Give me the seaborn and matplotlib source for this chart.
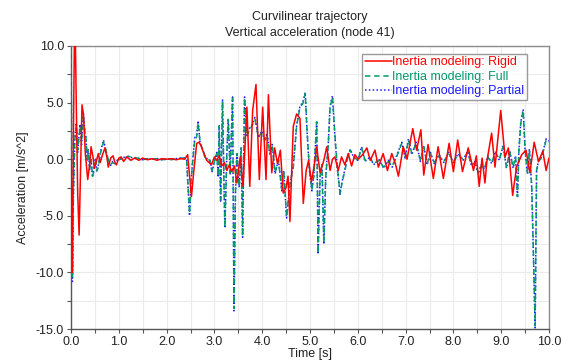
import numpy as np
import pandas as pd
import matplotlib
matplotlib.use("Agg")
import matplotlib.pyplot as plt
import seaborn as sns
from matplotlib.ticker import MultipleLocator, FormatStrFormatter

# ---------------- data ----------------
t_rigid = [0.00, 0.03, 0.05, 0.08, 0.11, 0.14, 0.17, 0.20, 0.23, 0.26, 0.30, 0.35, 0.39, 0.42,
           0.46, 0.49, 0.53, 0.57, 0.61, 0.66, 0.71, 0.75, 0.78, 0.83, 0.88, 0.92, 0.95, 1.00,
           1.05, 1.10, 1.17, 1.25, 1.33, 1.42, 1.50, 1.60, 1.70, 1.80, 1.90, 2.00, 2.10, 2.20,
           2.30, 2.38, 2.44, 2.48, 2.52, 2.57, 2.63, 2.68, 2.73, 2.78, 2.84, 2.89, 2.94, 3.00,
           3.05, 3.10, 3.15, 3.21, 3.26, 3.31, 3.36, 3.42, 3.47, 3.54, 3.60, 3.68, 3.74, 3.80,
           3.87, 3.94, 4.01, 4.08, 4.13, 4.20, 4.26, 4.32, 4.38, 4.44, 4.50, 4.54, 4.58, 4.65,
           4.72, 4.79, 4.86, 4.92, 4.97, 5.03, 5.09, 5.14, 5.21, 5.29, 5.35, 5.42, 5.47, 5.52,
           5.59, 5.66, 5.73, 5.80, 5.87, 5.94, 6.01, 6.10, 6.19, 6.26, 6.36, 6.43, 6.53, 6.62,
           6.71, 6.78, 6.85, 6.95, 7.03, 7.15, 7.23, 7.32, 7.38, 7.47, 7.58, 7.68, 7.79, 7.91,
           8.00, 8.09, 8.19, 8.31, 8.42, 8.48, 8.54, 8.60, 8.66, 8.70, 8.80, 8.87, 8.99, 9.08,
           9.15, 9.24, 9.32, 9.43, 9.52, 9.60, 9.69, 9.78, 9.87, 9.94, 10.00]
a_rigid = [0.0, -10.0, 2.0, 14.0, 5.0, -3.0, -6.7, -1.0, 4.8, 4.0, 0.5, -1.8, -0.5, 1.1,
           0.2, -0.8, -0.2, 0.5, -0.3, 0.4, 1.0, 0.2, -0.7, 0.1, 0.3, -0.3, -0.5, 0.1,
           0.2, -0.2, 0.2, -0.1, 0.1, -0.1, 0.1, -0.05, 0.05, -0.1, 0.05, 0.0, 0.05, -0.05,
           0.05, 0.0, 0.4, -1.5, -3.3, -1.0, 1.4, 1.5, 1.1, 0.5, -0.1, -0.3, -0.5, 0.2,
           -0.1, 0.3, -0.6, -0.3, -1.0, -0.5, -1.1, -0.6, -2.1, 0.2, -2.4, 4.6, -2.4, 4.3,
           6.6, -1.8, 4.6, -1.8, 5.7, -1.2, 1.0, -0.4, 0.8, -3.0, -2.5, -1.5, -5.5, 2.9,
           4.0, 3.6, -3.9, -1.0, -0.1, -2.0, -0.5, 1.1, -1.2, -0.1, 1.1, -1.0, 0.0, 0.2,
           -1.0, 0.2, -0.5, 0.5, -0.6, 0.4, 0.0, 0.4, 1.0, -0.1, 0.8, -0.7, 0.5, -1.0,
           0.5, -0.3, -1.5, 1.1, 0.0, 2.7, 0.8, 2.6, -1.4, 1.3, -1.7, 1.1, -1.7, 1.4,
           -1.1, 1.7, -1.1, 1.0, -1.0, 0.3, -2.4, 0.1, -2.1, -0.2, 2.3, -0.7, 4.3, 0.2,
           1.0, -3.2, -0.7, 0.4, 0.8, -1.2, 1.5, -0.2, 0.7, -1.0, 0.1]

t_flex = [0.00, 0.015, 0.03, 0.05, 0.08, 0.11, 0.14, 0.17, 0.19, 0.22, 0.26, 0.29, 0.31, 0.34,
          0.36, 0.39, 0.42, 0.45, 0.47, 0.51, 0.54, 0.57, 0.62, 0.68, 0.72, 0.75, 0.79, 0.82,
          0.87, 0.92, 0.97, 1.03, 1.10, 1.20, 1.30, 1.40, 1.50, 1.60, 1.70, 1.80, 1.90, 2.00,
          2.10, 2.20, 2.30, 2.38, 2.42, 2.45, 2.48, 2.51, 2.55, 2.59, 2.63, 2.66, 2.70, 2.73,
          2.77, 2.80, 2.86, 2.91, 2.95, 2.98, 3.02, 3.05, 3.08, 3.10, 3.13, 3.17, 3.20, 3.22,
          3.26, 3.29, 3.33, 3.38, 3.41, 3.44, 3.47, 3.52, 3.56, 3.59, 3.63, 3.68, 3.73, 3.78,
          3.85, 3.92, 3.99, 4.06, 4.10, 4.16, 4.21, 4.27, 4.34, 4.41, 4.45, 4.51, 4.58, 4.65,
          4.72, 4.79, 4.85, 4.90, 4.94, 4.99, 5.04, 5.08, 5.14, 5.17, 5.21, 5.25, 5.29, 5.33,
          5.38, 5.42, 5.47, 5.49, 5.52, 5.57, 5.63, 5.67, 5.73, 5.78, 5.84, 5.92, 6.00, 6.08,
          6.15, 6.26, 6.33, 6.44, 6.54, 6.64, 6.72, 6.81, 6.92, 6.99, 7.06, 7.13, 7.22, 7.31,
          7.38, 7.45, 7.52, 7.60, 7.70, 7.80, 7.90, 8.00, 8.10, 8.20, 8.30, 8.38, 8.45, 8.52,
          8.58, 8.65, 8.72, 8.80, 8.88, 8.96, 9.04, 9.11, 9.18, 9.25, 9.30, 9.34, 9.37, 9.41,
          9.46, 9.50, 9.55, 9.59, 9.64, 9.67, 9.71, 9.74, 9.78, 9.84, 9.90, 9.94, 10.00]
a_full = [10.5, 0.0, -10.5, -3.0, 1.7, 3.0, 0.8, 2.0, 2.9, 1.5, 3.9, 2.5, 2.0, 0.0,
          0.8, -0.8, -0.1, -1.5, -1.2, 0.0, -1.0, -0.7, 0.6, 1.5, 1.0, 0.5, -0.2, -0.5,
          -0.3, -0.4, -0.1, 0.0, 0.1, 0.25, 0.15, 0.1, -0.05, 0.05, 0.0, 0.05, -0.05, 0.0,
          -0.05, 0.05, 0.1, 0.1, -0.1, -2.5, -4.8, -2.0, 0.0, 1.7, 2.0, 3.2, 1.5, 1.1,
          0.8, 0.2, 0.0, -0.1, -1.0, -0.7, 0.2, 0.5, -1.5, 2.9, -3.6, 5.1, -2.0, -6.0,
          0.5, 3.5, -1.2, 5.4, -13.2, -3.0, 0.5, -2.4, 1.0, -6.8, 5.4, 2.0, 2.6, 2.9,
          3.5, 2.0, 2.3, 1.7, 2.2, 0.5, 1.2, -1.2, -0.1, -2.7, -1.0, -5.1, -2.2, -0.7,
          2.9, 4.6, 4.9, 5.8, 2.4, -1.0, -2.7, -1.5, 3.3, -8.3, -1.5, -0.5, -7.4, -1.5,
          1.1, 4.6, 5.5, 4.2, 2.2, -0.7, -3.0, -2.1, -1.0, 0.0, 0.8, 0.2, -0.1, 1.0,
          -0.1, 0.1, -0.4, -0.1, -0.7, -0.2, -0.6, 0.2, 1.4, 0.2, 1.7, 0.5, 1.4, -0.1,
          1.1, -0.4, 0.5, -0.3, 0.3, -0.2, 0.5, -0.2, 0.4, 0.0, 0.6, -0.5, -0.3, -1.2,
          -0.6, -0.8, 0.2, -0.3, 0.6, 0.0, 1.1, -0.7, 0.6, -0.7, 0.2, -3.3, 0.7, 3.2,
          4.3, 0.8, -1.2, 0.8, -2.5, -7.7, -14.7, -1.0, -0.2, 0.1, 1.0, 1.7, 1.5]
a_partial = [10.5, 0.0, -10.8, -3.2, 1.9, 3.2, 0.6, 2.2, 3.1, 1.3, 4.0, 2.3, 2.1, -0.2,
             0.9, -0.9, 0.0, -1.6, -1.1, 0.1, -1.1, -0.6, 0.7, 1.7, 0.9, 0.4, -0.3, -0.6,
             -0.2, -0.4, -0.1, 0.0, 0.15, 0.25, 0.1, 0.1, -0.05, 0.05, 0.0, 0.05, -0.05, 0.0,
             0.0, 0.05, 0.1, 0.1, -0.1, -2.7, -5.0, -2.1, 0.1, 1.9, 2.2, 3.4, 1.4, 1.1,
             0.7, 0.2, 0.0, -0.2, -1.1, -0.6, 0.2, 0.6, -1.6, 3.0, -3.7, 5.3, -2.2, -6.1,
             0.6, 3.6, -1.3, 5.5, -13.4, -3.1, 0.6, -2.5, 1.1, -6.9, 5.5, 2.1, 2.7, 3.0,
             3.7, 1.9, 2.5, 1.6, 2.3, 0.4, 1.3, -1.3, 0.0, -2.8, -1.0, -5.2, -2.3, -0.6,
             3.0, 4.7, 5.0, 5.9, 2.3, -1.1, -2.8, -1.4, 3.4, -8.4, -1.6, -0.4, -7.5, -1.4,
             1.2, 4.7, 5.6, 4.1, 2.1, -0.8, -3.1, -2.0, -0.9, 0.1, 0.9, 0.1, -0.1, 1.1,
             -0.2, 0.2, -0.5, 0.0, -0.8, -0.1, -0.7, 0.3, 1.5, 0.1, 1.8, 0.4, 1.5, -0.2,
             1.2, -0.5, 0.6, -0.4, 0.4, -0.3, 0.6, -0.3, 0.5, -0.1, 0.7, -0.6, -0.2, -1.3,
             -0.5, -0.9, 0.3, -0.4, 0.7, -0.1, 1.2, -0.8, 0.7, -0.8, 0.3, -3.4, 0.8, 3.3,
             4.4, 0.7, -1.3, 0.9, -2.6, -7.8, -14.9, -1.1, -0.1, 0.2, 1.1, 1.8, 1.6]

labels = ["Inertia modeling: Rigid", "Inertia modeling: Full", "Inertia modeling: Partial"]
colors = ["#ff0000", "#00996b", "#1a1aff"]

df = pd.concat([
    pd.DataFrame({"t": t_rigid, "a": a_rigid, "model": labels[0]}),
    pd.DataFrame({"t": t_flex, "a": a_full, "model": labels[1]}),
    pd.DataFrame({"t": t_flex, "a": a_partial, "model": labels[2]}),
], ignore_index=True)

# ---------------- plot ----------------
sns.set_theme(style="white")
plt.rcParams['font.family'] = ['Liberation Sans', 'DejaVu Sans']

fig = plt.figure(figsize=(5.69, 3.61), dpi=100)
ax = fig.add_axes([71/569, 1 - 329/361, (549-71)/569, (329-46)/361])

styles = ["-", (0, (3.5, 2.5)), (0, (1, 1.5))]
zorders = [4, 3, 2]
for lab, col, ls, zo in zip(labels, colors, styles, zorders):
    sub = df[df["model"] == lab]
    sns.lineplot(data=sub, x="t", y="a", ax=ax, color=col, linewidth=1.1,
                 estimator=None, sort=False, label=lab, linestyle=ls, zorder=zo)

ax.set_xlim(0, 10)
ax.set_ylim(-15, 10)
ax.xaxis.set_major_locator(MultipleLocator(1.0))
ax.xaxis.set_minor_locator(MultipleLocator(0.5))
ax.yaxis.set_major_locator(MultipleLocator(5.0))
ax.yaxis.set_minor_locator(MultipleLocator(2.5))
ax.xaxis.set_major_formatter(FormatStrFormatter("%.1f"))
ax.yaxis.set_major_formatter(FormatStrFormatter("%.1f"))
ax.grid(True, which="both", color="#ebebeb", linewidth=0.8)
ax.set_axisbelow(True)
ax.tick_params(which="both", direction="out", length=3, width=0.8, color="#555555",
               labelsize=9, labelcolor="#222222", bottom=True, left=True, pad=2)
for side in ["left", "bottom"]:
    ax.spines[side].set_color("#555555")
    ax.spines[side].set_linewidth(1.0)
for side in ["top", "right"]:
    ax.spines[side].set_color("#8c8c8c")
    ax.spines[side].set_linewidth(1.0)

ax.set_xlabel("Time [s]", fontsize=9, color="#222222", labelpad=0)
ax.set_ylabel("Acceleration [m/s^2]", fontsize=9, color="#222222", labelpad=5)
fig.text(310/569, 1 - 17/361, "Curvilinear trajectory", ha="center", va="center",
         fontsize=9, color="#222222")
fig.text(310/569, 1 - 33/361, "Vertical acceleration (node 41)", ha="center", va="center",
         fontsize=9, color="#222222")

leg = ax.legend(loc="upper right", bbox_to_anchor=(0.954, 0.972), borderaxespad=0,
                fontsize=9, frameon=True, fancybox=False, handlelength=2.2,
                handletextpad=0.0, borderpad=0.2, labelspacing=0.2)
leg.get_frame().set_edgecolor("#808080")
leg.get_frame().set_linewidth(1.0)
leg.set_zorder(10)
for txt, col in zip(leg.get_texts(), colors):
    txt.set_color(col)

fig.savefig("out.png", dpi=100)
